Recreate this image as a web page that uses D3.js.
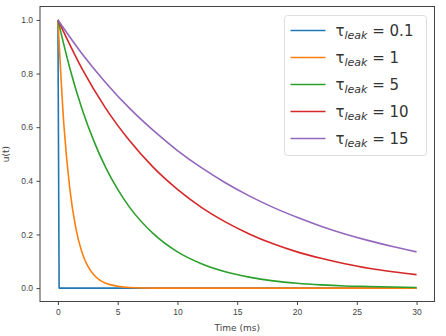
<!DOCTYPE html>
<html>
  <head>
    <meta charset="UTF-8">
    <title>Leaky decay u(t)</title>
    <script src="https://cdnjs.cloudflare.com/ajax/libs/d3/7.8.5/d3.min.js"></script>
    <style>
      body { margin: 0; background: #fff; overflow: hidden; }
      svg { display: block; font-family: "DejaVu Sans", sans-serif; }
      .tick text { font-size: 8.5px; fill: #444; }
      .tick line { stroke: #444; }
      .axis-label { font-size: 9px; fill: #444; }
      .legend-text { font-size: 15px; fill: #333; }
    </style>
  </head>
  <body>
    <div id="chart"></div>
    <script>
      // values
      const tauLabels = ["0.1", "1", "5", "10", "15"];
      const colors = ["#1f77b4", "#ff7f0e", "#2ca02c", "#d62728", "#9467bd"];

      const time01 = [0, 0.1, 30];
      const u01 = [1, 0, 0];

      const time1 = [0, 0.5, 1, 1.5, 2, 2.5, 3, 3.5, 4, 5, 6, 8, 30];
      const u1 = [1, 0.607, 0.368, 0.223, 0.135, 0.082, 0.05, 0.03, 0.018, 0.007, 0.002, 0, 0];

      const time5 = [0, 1, 2, 3, 4, 5, 6, 8, 10, 12, 14, 16, 18, 20, 22, 24, 26, 28, 30];
      const u5 = [1, 0.819, 0.67, 0.549, 0.449, 0.368, 0.301, 0.202, 0.135, 0.091, 0.061, 0.041, 0.027, 0.018, 0.012, 0.008, 0.006, 0.004, 0.002];

      const time10 = [0, 2, 4, 6, 8, 10, 12, 14, 16, 18, 20, 22, 24, 26, 28, 30];
      const u10 = [1, 0.819, 0.67, 0.549, 0.449, 0.368, 0.301, 0.247, 0.202, 0.165, 0.135, 0.111, 0.091, 0.074, 0.061, 0.05];

      const time15 = [0, 2, 4, 6, 8, 10, 12, 14, 16, 18, 20, 22, 24, 26, 28, 30];
      const u15 = [1, 0.875, 0.766, 0.67, 0.587, 0.513, 0.449, 0.393, 0.344, 0.301, 0.264, 0.231, 0.202, 0.177, 0.155, 0.135];

      const xTicks = [0, 5, 10, 15, 20, 25, 30];
      const yTicks = [0.0, 0.2, 0.4, 0.6, 0.8, 1.0];

      const series = [
        {t: time01, u: u01, curve: d3.curveLinear},
        {t: time1, u: u1, curve: d3.curveMonotoneX},
        {t: time5, u: u5, curve: d3.curveMonotoneX},
        {t: time10, u: u10, curve: d3.curveMonotoneX},
        {t: time15, u: u15, curve: d3.curveMonotoneX}
      ];

      const width = 446, height = 336;
      const margin = {top: 6.5, right: 11.5, bottom: 34.5, left: 40};
      const innerWidth = width - margin.left - margin.right;
      const innerHeight = height - margin.top - margin.bottom;

      const svg = d3.select("#chart").append("svg")
        .attr("width", width)
        .attr("height", height);

      const g = svg.append("g")
        .attr("transform", `translate(${margin.left},${margin.top})`);

      const x = d3.scaleLinear().domain([-1.5, 31.5]).range([0, innerWidth]);
      const y = d3.scaleLinear().domain([-0.05, 1.05]).range([innerHeight, 0]);

      // curves
      series.forEach((s, i) => {
        const line = d3.line()
          .x(d => x(d[0]))
          .y(d => y(d[1]))
          .curve(s.curve);
        g.append("path")
          .datum(s.t.map((t, j) => [t, s.u[j]]))
          .attr("d", line)
          .attr("fill", "none")
          .attr("stroke", colors[i])
          .attr("stroke-width", 1.6)
          .attr("stroke-linejoin", "round");
      });

      // axes
      const xAxis = g.append("g")
        .attr("transform", `translate(0,${innerHeight})`)
        .call(d3.axisBottom(x).tickValues(xTicks).tickSize(3.5).tickPadding(3.5).tickFormat(d3.format("d")));
      const yAxis = g.append("g")
        .call(d3.axisLeft(y).tickValues(yTicks).tickSize(3.5).tickPadding(3.5).tickFormat(d3.format(".1f")));
      xAxis.select(".domain").remove();
      yAxis.select(".domain").remove();

      g.append("rect")
        .attr("width", innerWidth)
        .attr("height", innerHeight)
        .attr("fill", "none")
        .attr("stroke", "#444")
        .attr("stroke-width", 1);

      g.append("text")
        .attr("class", "axis-label")
        .attr("x", innerWidth / 2)
        .attr("y", innerHeight + 29.5)
        .attr("text-anchor", "middle")
        .text("Time (ms)");

      g.append("text")
        .attr("class", "axis-label")
        .attr("transform", `translate(${-31.5},${innerHeight / 2}) rotate(-90)`)
        .attr("text-anchor", "middle")
        .text("u(t)");

      // legend
      const legend = svg.append("g").attr("transform", "translate(284.5,15.5)");
      legend.append("rect")
        .attr("width", 142)
        .attr("height", 140)
        .attr("rx", 3)
        .attr("fill", "#fff")
        .attr("fill-opacity", 0.8)
        .attr("stroke", "#ddd");

      const rows = legend.selectAll(".row")
        .data(tauLabels)
        .join("g")
        .attr("class", "row")
        .attr("transform", (d, i) => `translate(0,${15 + i * 27})`);

      rows.append("line")
        .attr("x1", 6).attr("x2", 41)
        .attr("stroke", (d, i) => colors[i])
        .attr("stroke-width", 1.5);

      const label = rows.append("text")
        .attr("class", "legend-text")
        .attr("x", 51)
        .attr("y", 5.5);
      label.append("tspan").text("τ");
      label.append("tspan")
        .attr("dy", 3)
        .style("font-size", "11px")
        .style("font-style", "italic")
        .text("leak");
      label.append("tspan")
        .attr("dy", -3)
        .text(d => " = " + d);
    </script>
  </body>
</html>
